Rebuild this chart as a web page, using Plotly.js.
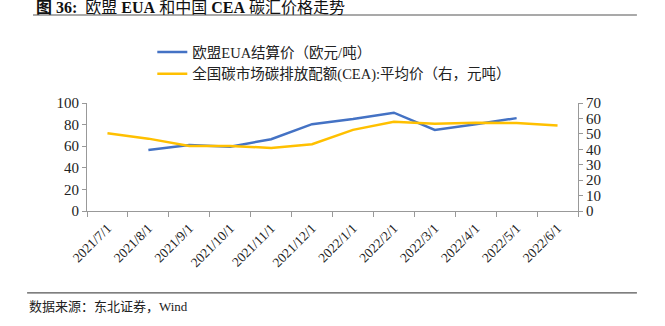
<!DOCTYPE html>
<html>
<head>
<meta charset="utf-8">
<script src="https://cdn.plot.ly/plotly-3.0.1.min.js"></script>
<style>html,body{margin:0;padding:0;background:#fff;}#chart{width:665px;height:326px;}</style>
</head>
<body>
<div id="chart"></div>
<script>
const months = ["2021/7/1","2021/8/1","2021/9/1","2021/10/1","2021/11/1","2021/12/1","2022/1/1","2022/2/1","2022/3/1","2022/4/1","2022/5/1","2022/6/1"];
const euaPrice = [null, 56.5, 61, 59.6, 66.5, 80.4, 85.1, 91, 75.1, 80.4, 86, null];
const ceaPrice = [50.4, 46.9, 42.2, 42.2, 40.9, 43.3, 52.6, 57.8, 56.5, 57.2, 57, 55.4];
const leftTicks = [0, 20, 40, 60, 80, 100];
const rightTicks = [0, 10, 20, 30, 40, 50, 60, 70];
const euaName = "欧盟EUA结算价（欧元/吨）";
const ceaName = "全国碳市场碳排放配额(CEA):平均价（右，元吨）";
const titleText = "<b>图 36:</b>  欧盟 <b>EUA</b> 和中国 <b>CEA</b> 碳汇价格走势";
const sourceText = "数据来源：东北证券，Wind";

const FONT = "'Liberation Serif', 'Times New Roman', 'Noto Sans CJK SC', serif";

const traces = [
  {x: months, y: euaPrice, name: euaName, type: "scatter", mode: "lines",
   line: {color: "#4472C4", width: 2.5}, yaxis: "y", connectgaps: false},
  {x: months, y: ceaPrice, name: ceaName, type: "scatter", mode: "lines",
   line: {color: "#FFC000", width: 2.5}, yaxis: "y2"}
];

const layout = {
  width: 665, height: 326,
  margin: {l: 87, r: 87, t: 103, b: 115, pad: 0},
  paper_bgcolor: "#fff", plot_bgcolor: "#fff",
  font: {family: FONT, color: "#222", size: 13},
  showlegend: true,
  legend: {x: 0.133, y: 1.62, xanchor: "left", yanchor: "top",
           font: {family: FONT, size: 14.5, color: "#222"}, tracegroupgap: 4,
           bgcolor: "rgba(0,0,0,0)"},
  xaxis: {type: "category", range: [-0.5, months.length - 0.5],
          tickmode: "array", tickvals: months, ticktext: months,
          tickson: "boundaries", ticks: "outside", ticklen: 5, tickcolor: "#999",
          showline: true, linecolor: "#999", linewidth: 1, showgrid: false, zeroline: false,
          tickangle: -45, ticklabelstandoff: 3,
          tickfont: {family: FONT, size: 13.5, color: "#222"}, fixedrange: true},
  yaxis: {range: [0, 100], tickvals: leftTicks, ticks: "outside", ticklen: 4, tickcolor: "#999",
          showline: true, linecolor: "#999", showgrid: false, zeroline: false,
          tickfont: {family: FONT, size: 15, color: "#222"}},
  yaxis2: {range: [0, 70], tickvals: rightTicks, overlaying: "y", side: "right",
           ticks: "outside", ticklen: 4, tickcolor: "#999",
           showline: true, linecolor: "#999", showgrid: false, zeroline: false,
           tickfont: {family: FONT, size: 15, color: "#222"}},
  annotations: [
    {xref: "paper", yref: "paper", x: -0.107, y: 1.88, xanchor: "left", yanchor: "middle",
     text: titleText, showarrow: false, font: {family: FONT, size: 16, color: "#111"}},
    {xref: "paper", yref: "paper", x: -0.122, y: -0.88, xanchor: "left", yanchor: "middle",
     text: sourceText, showarrow: false, font: {family: FONT, size: 13, color: "#222"}}
  ],
  shapes: [
    {type: "line", xref: "paper", yref: "paper", x0: -0.11, x1: 1.12, y0: 1.815, y1: 1.815,
     line: {color: "#555", width: 1.2}},
    {type: "line", xref: "paper", yref: "paper", x0: -0.122, x1: 1.12, y0: -0.759, y1: -0.759,
     line: {color: "#555", width: 1.2}}
  ]
};

Plotly.newPlot("chart", traces, layout, {displayModeBar: false, staticPlot: true});
</script>
</body>
</html>
